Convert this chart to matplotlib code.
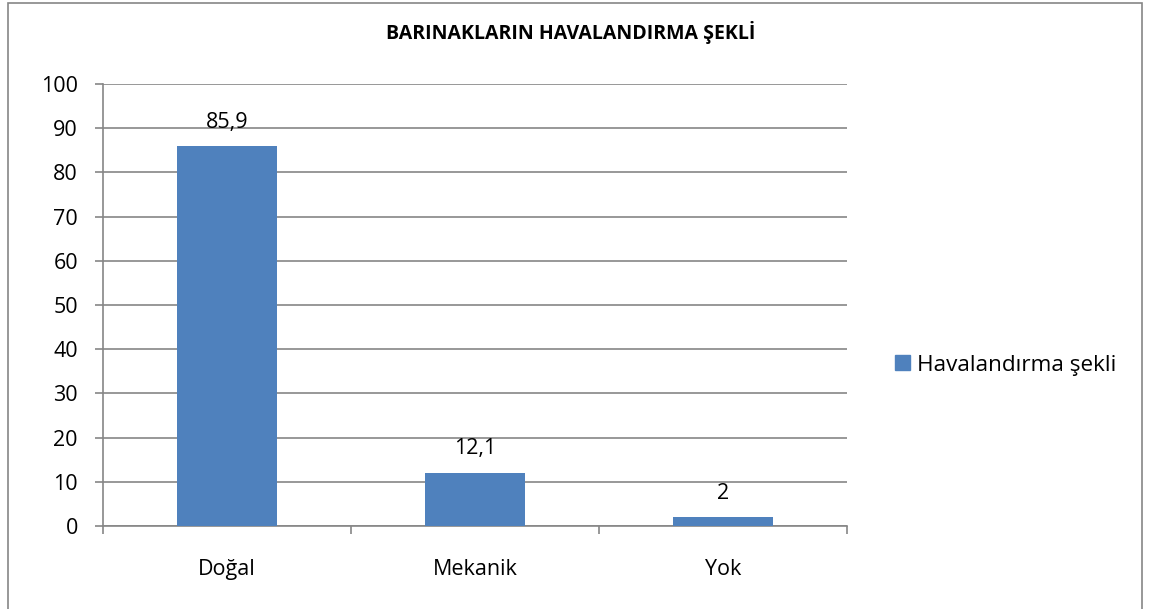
import matplotlib
matplotlib.use("Agg")
import matplotlib.pyplot as plt
from matplotlib.patches import Rectangle, Patch

categories = ["Doğal", "Mekanik", "Yok"]
values = [85.9, 12.1, 2]
value_labels = ["85,9", "12,1", "2"]
yticks = [0, 10, 20, 30, 40, 50, 60, 70, 80, 90, 100]
title = "BARINAKLARIN HAVALANDIRMA ŞEKLİ"
series_name = "Havalandırma şekli"

plt.rcParams['font.family'] = ['Open Sans', 'DejaVu Sans']

W, H = 1156, 609
fig = plt.figure(figsize=(W / 100, H / 100), dpi=100)
fig.patch.set_facecolor("white")

# outer chart border
fig.patches.append(Rectangle((8 / W, -0.05), (1142 - 8) / W, (609 - 3) / H + 0.05,
                             transform=fig.transFigure, fill=False,
                             edgecolor="#868686", linewidth=1.2))

ax = fig.add_axes([103 / W, (H - 526) / H, (847 - 103) / W, (526 - 84) / H])
grid_c = "#868686"
bar_c = "#4F81BD"

x = list(range(len(categories)))
bars = ax.bar(x, values, width=0.4, color=bar_c, zorder=3)
ax.set_xlim(-0.5, len(categories) - 0.5)
ax.set_ylim(0, 100)
ax.set_yticks(yticks)
ax.set_yticklabels([str(t) for t in yticks], fontsize=15.5)
ax.yaxis.grid(True, color=grid_c, linewidth=1.2, zorder=0)
ax.set_axisbelow(True)

ax.set_xticks(x)
ax.set_xticklabels(categories, fontsize=15.5)
ax.tick_params(axis="x", length=0, pad=24)
ax.tick_params(axis="y", length=6, color=grid_c, width=1.2, pad=12)
ax.set_xticks([i - 0.5 for i in range(len(categories) + 1)], minor=True)
ax.tick_params(axis="x", which="minor", length=6, color=grid_c, width=1.2)

for s in ["top", "right"]:
    ax.spines[s].set_visible(False)
for s in ["left", "bottom"]:
    ax.spines[s].set_color(grid_c)
    ax.spines[s].set_linewidth(1.2)

for b, lab in zip(bars, value_labels):
    ax.annotate(lab, (b.get_x() + b.get_width() / 2, b.get_height()),
                xytext=(0, 17), textcoords="offset points",
                ha="center", va="center", fontsize=15.5)

fig.text(571 / W, 1 - 33 / H, title, ha="center", va="center",
         fontsize=14, fontweight="bold")

fig.legend(handles=[Patch(color=bar_c, label=series_name)],
           loc="center left", bbox_to_anchor=(895 / W, 1 - 365 / H),
           frameon=False, fontsize=16.2, handlelength=0.68, handleheight=0.68,
           handletextpad=0.3, borderpad=0, borderaxespad=0)

fig.savefig("out.png", dpi=100, facecolor="white")
